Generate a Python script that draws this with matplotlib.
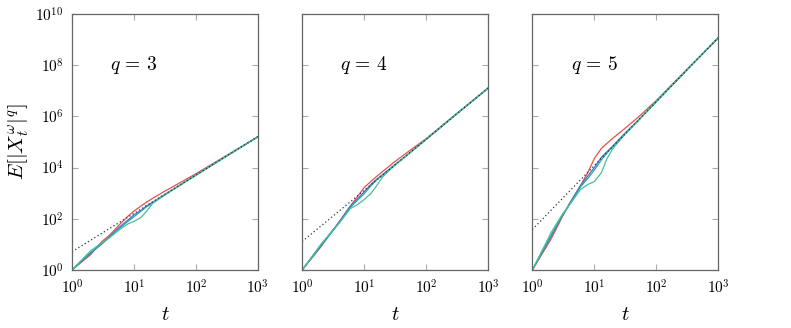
import numpy as np
import matplotlib
matplotlib.use('Agg')
import matplotlib.pyplot as plt

plt.rcParams['mathtext.fontset'] = 'cm'
plt.rcParams['font.family'] = 'serif'

# sample times and log10 of the moment estimates
t = [1, 2, 3, 4, 6, 8, 10, 13, 16, 20, 30, 50, 100, 300, 1000]

q_vals = [3, 4, 5]
asym_log0 = [0.71, 1.11, 1.58]   # log10 intercept of dotted t^(q/2) line

red_q3 = [0, 0.6, 1.1, 1.35, 1.8, 2.1, 2.3, 2.5, 2.65, 2.8, 3.05, 3.35, 3.76, 4.45, 5.2]
blue_q3 = [0, 0.65, 1.02, 1.3, 1.7, 1.95, 2.15, 2.33, 2.5, 2.64, 2.92, 3.25, 3.71, 4.43, 5.21]
teal_q3 = [0, 0.68, 1.0, 1.28, 1.65, 1.9, 2.08, 2.3, 2.47, 2.62, 2.9, 3.24, 3.7, 4.42, 5.2]
green_q3 = [0, 0.75, 1.05, 1.25, 1.6, 1.8, 1.9, 2.05, 2.3, 2.6, 2.9, 3.25, 3.71, 4.43, 5.21]

red_q4 = [0, 0.9, 1.5, 1.9, 2.5, 2.9, 3.22, 3.47, 3.66, 3.85, 4.2, 4.6, 5.13, 6.08, 7.1]
blue_q4 = [0, 0.93, 1.48, 1.88, 2.5, 2.8, 3.05, 3.35, 3.55, 3.73, 4.08, 4.5, 5.1, 6.07, 7.11]
teal_q4 = [0, 0.95, 1.48, 1.85, 2.45, 2.75, 2.98, 3.3, 3.52, 3.72, 4.07, 4.5, 5.1, 6.06, 7.1]
green_q4 = [0, 1.0, 1.5, 1.85, 2.4, 2.57, 2.75, 3.0, 3.3, 3.65, 4.05, 4.5, 5.11, 6.07, 7.11]

red_q5 = [0, 1.2, 2.05, 2.6, 3.3, 3.85, 4.35, 4.75, 4.95, 5.15, 5.5, 5.95, 6.62, 7.8, 9.05]
blue_q5 = [0, 1.3, 2.08, 2.6, 3.3, 3.7, 4.0, 4.4, 4.62, 4.85, 5.3, 5.83, 6.58, 7.78, 9.08]
teal_q5 = [0, 1.35, 2.1, 2.57, 3.25, 3.6, 3.9, 4.3, 4.57, 4.83, 5.28, 5.82, 6.57, 7.77, 9.07]
green_q5 = [0, 1.45, 2.15, 2.55, 3.15, 3.35, 3.45, 3.8, 4.35, 4.75, 5.25, 5.8, 6.58, 7.78, 9.08]

series = [
    [red_q3, blue_q3, teal_q3, green_q3],
    [red_q4, blue_q4, teal_q4, green_q4],
    [red_q5, blue_q5, teal_q5, green_q5],
]
colors = ['#e8504a', '#4470d0', '#2a9fb5', '#45c093']

fig = plt.figure(figsize=(7.91, 3.28), dpi=100)
lefts = [0.091, 0.382, 0.673]
t = np.array(t, dtype=float)

for i, q in enumerate(q_vals):
    ax = fig.add_axes([lefts[i], 0.177, 0.235, 0.780])
    for ys, c in zip(series[i], colors):
        ax.plot(t, 10 ** np.array(ys), color=c, lw=0.9)
    ax.plot(t, 10 ** asym_log0[i] * t ** (q / 2), color='#333333', lw=0.9, ls=(0, (1, 2)))
    ax.set_xscale('log')
    ax.set_yscale('log')
    ax.set_xlim(1, 1000)
    ax.set_ylim(1, 1e10)
    ax.set_xticks([1, 10, 100, 1000])
    ax.set_xticklabels([r'$10^{%d}$' % k for k in range(4)])
    ax.set_yticks([10 ** k for k in range(0, 11, 2)])
    if i == 0:
        ax.set_yticklabels([r'$10^{%d}$' % k for k in range(0, 11, 2)])
        ax.set_ylabel(r'$E[|X_t^{\omega}|^q]$', fontsize=15, labelpad=3)
    else:
        ax.set_yticklabels([])
    ax.minorticks_off()
    ax.tick_params(direction='in', which='both', top=True, right=True,
                   length=4, width=0.8, color='#aaaaaa', labelsize=11, pad=6)
    for sp in ax.spines.values():
        sp.set_color('#666666')
        sp.set_linewidth(0.9)
    ax.set_xlabel(r'$t$', fontsize=15, labelpad=6)
    ax.text(10, 1e8, r'$q\,=\,%d$' % q, fontsize=14, ha='center', va='center')

fig.savefig('out.png', dpi=100)
